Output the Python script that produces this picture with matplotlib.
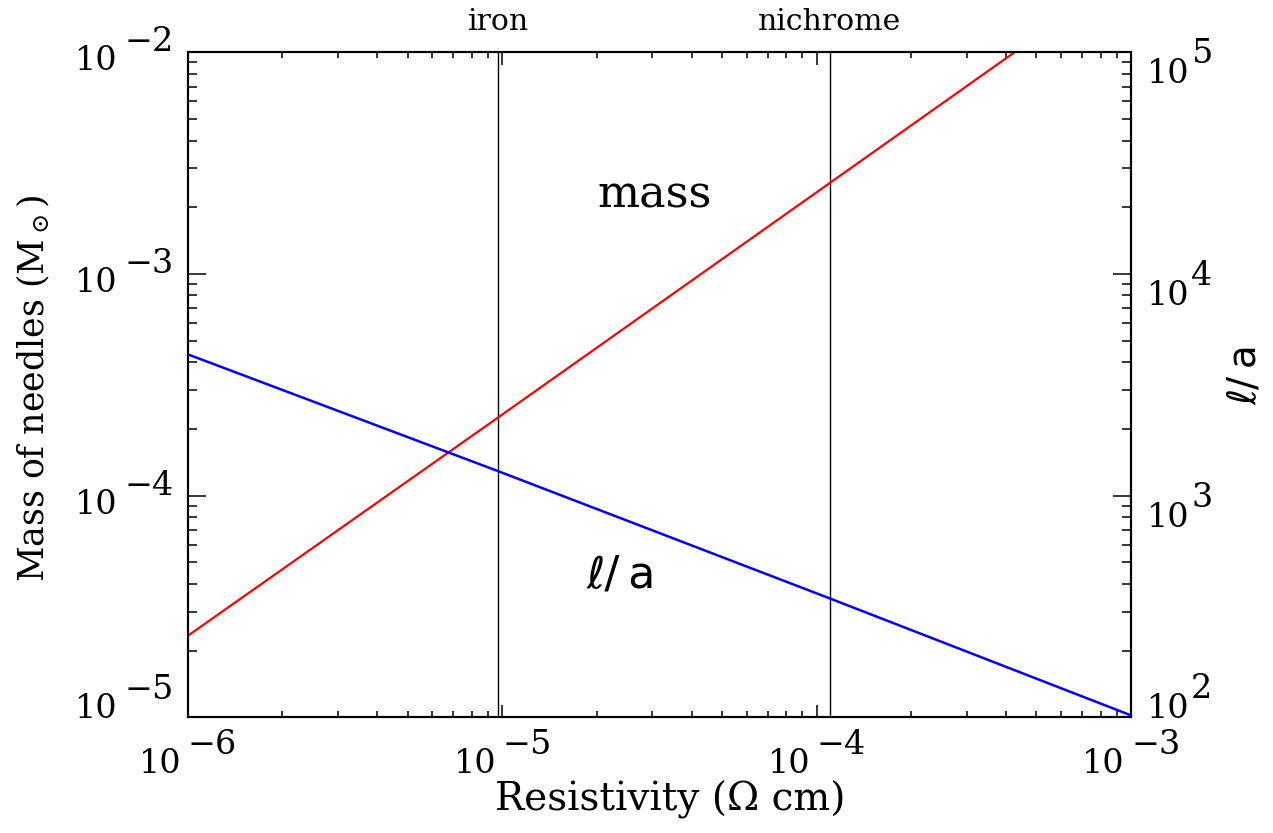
import numpy as np
import matplotlib
matplotlib.use('Agg')
import matplotlib.pyplot as plt
from matplotlib.ticker import LogLocator, NullFormatter
import matplotlib.transforms as mtransforms

# values
rho_mass = [1e-6, 9.7e-6, 1.1e-4, 4.26e-4]      # resistivity (ohm cm)
mass = [2.33e-5, 2.25e-4, 2.57e-3, 1e-2]         # mass of needles (Msun)
rho_la = [1e-6, 9.7e-6, 1.1e-4, 1e-3]
l_over_a = [4340, 1290, 344, 102]
materials = ['iron', 'nichrome']
material_rho = [9.7e-6, 1.1e-4]
x_ticks = [1e-6, 1e-5, 1e-4, 1e-3]
left_ticks = [1e-5, 1e-4, 1e-3, 1e-2]
right_ticks = [1e2, 1e3, 1e4, 1e5]

plt.rcParams['font.family'] = 'DejaVu Serif'
plt.rcParams['mathtext.fontset'] = 'dejavuserif'
TICKFS = 24

fig = plt.figure(figsize=(12.73, 8.33), dpi=100)
ax = fig.add_axes([0.1475, 0.1389, 0.741, 0.7983])
ax2 = ax.twinx()

ax.set_xscale('log')
ax.set_yscale('log')
ax2.set_yscale('log')
ax.set_xlim(1e-6, 1e-3)
ax.set_ylim(1e-5, 1e-2)
ax2.set_ylim(1e2, 1e5)

ax.plot(rho_mass, mass, color='red', lw=1.6, zorder=3)
ax2.plot(rho_la, l_over_a, color='blue', lw=1.8, zorder=3)

top = mtransforms.blended_transform_factory(ax.transData, ax.transAxes)
for name, r in zip(materials, material_rho):
    ax.axvline(r, color='black', lw=1.0)
    ax.text(r, 1.046, name, transform=top, ha='center', va='center', fontsize=21.5)

ax.text(0.495, 0.785, 'mass', transform=ax.transAxes, ha='center', va='center', fontsize=32)
ax.text(0.46, 0.214, 'ℓ/\u2009a', transform=ax.transAxes, ha='center', va='center',
        fontsize=32, family='DejaVu Sans')

# ticks: inward, all sides, minors at 2..9
for a in (ax, ax2):
    a.xaxis.set_major_formatter(NullFormatter())
    a.xaxis.set_minor_formatter(NullFormatter())
    a.yaxis.set_major_formatter(NullFormatter())
    a.yaxis.set_minor_formatter(NullFormatter())
    a.yaxis.set_major_locator(LogLocator(base=10))
    a.yaxis.set_minor_locator(LogLocator(base=10, subs=np.arange(2, 10)))
    for s in a.spines.values():
        s.set_linewidth(1.5)
ax.xaxis.set_major_locator(LogLocator(base=10))
ax.xaxis.set_minor_locator(LogLocator(base=10, subs=np.arange(2, 10)))
ax.tick_params(axis='x', which='major', direction='in', length=9, width=1.1, top=True, bottom=True)
ax.tick_params(axis='x', which='minor', direction='in', length=4.5, width=1.1, top=True, bottom=True)
ax.tick_params(axis='y', which='major', direction='in', length=13, width=1.1, left=True, right=False)
ax.tick_params(axis='y', which='minor', direction='in', length=6.5, width=1.1, left=True, right=False)
ax2.tick_params(axis='y', which='major', direction='in', length=13, width=1.1, right=True, left=False)
ax2.tick_params(axis='y', which='minor', direction='in', length=6.5, width=1.1, right=True, left=False)


def exp_text(v):
    e = int(round(np.log10(v)))
    return str(e).replace('-', '\u2212')


# IDL-style labels: full size exponent
bottom_px = ax.transAxes.transform((0, 0))[1]
for v in x_ticks:
    ax.annotate('10', xy=(v, 0), xycoords=('data', 'axes fraction'), xytext=(-6, -56),
                textcoords='offset pixels', ha='right', va='baseline', fontsize=TICKFS)
    ax.annotate(exp_text(v), xy=(v, 0), xycoords=('data', 'axes fraction'), xytext=(0, -37),
                textcoords='offset pixels', ha='left', va='baseline', fontsize=TICKFS)

for v in left_ticks:
    ty = ax.transData.transform((1e-6, v))[1]
    base = max(ty - 18, bottom_px - 1) - ty
    ax.annotate('10', xy=(0, v), xycoords=('axes fraction', 'data'), xytext=(-70, base),
                textcoords='offset pixels', ha='right', va='baseline', fontsize=TICKFS)
    ax.annotate(exp_text(v), xy=(0, v), xycoords=('axes fraction', 'data'), xytext=(-63, base + 19),
                textcoords='offset pixels', ha='left', va='baseline', fontsize=TICKFS)

for v in right_ticks:
    ty = ax2.transData.transform((1e-6, v))[1]
    base = max(ty - 31, bottom_px - 1) - ty
    ax2.annotate('10', xy=(1, v), xycoords=('axes fraction', 'data'), xytext=(16, base),
                 textcoords='offset pixels', ha='left', va='baseline', fontsize=TICKFS)
    ax2.annotate(exp_text(v), xy=(1, v), xycoords=('axes fraction', 'data'), xytext=(60, base + 20),
                 textcoords='offset pixels', ha='left', va='baseline', fontsize=TICKFS)

fig.text(670 / 1273, 1 - 800 / 833, 'Resistivity (\u03a9 cm)', ha='center', va='center', fontsize=28)
fig.text(33 / 1273, 1 - 388 / 833, 'Mass of needles (M$_\\odot$)', ha='center', va='center',
         rotation=90, fontsize=25)
fig.text(1245 / 1273, 1 - 375 / 833, 'ℓ/\u2009a', ha='center', va='center', rotation=90,
         fontsize=28, family='DejaVu Sans')

fig.savefig('out.png', dpi=100)
